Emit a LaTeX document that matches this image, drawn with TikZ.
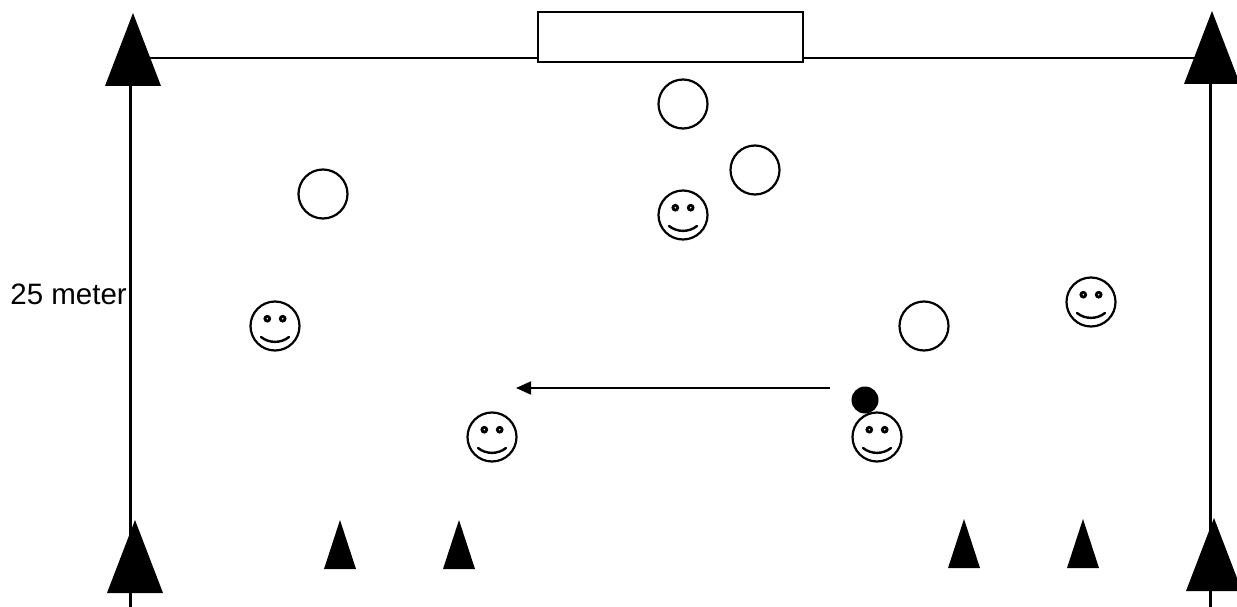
\documentclass[tikz,border=0pt]{standalone}
\usepackage{fontspec}
\setmainfont{Liberation Sans}
\usetikzlibrary{shapes.geometric, arrows.meta, positioning}
\tikzset{
  bigcone/.style={isosceles triangle, isosceles triangle stretches, shape border rotate=90, draw=none, fill=black,
    minimum width=56pt, minimum height=73pt, inner sep=0pt, outer sep=0pt, anchor=apex},
  smallcone/.style={isosceles triangle, isosceles triangle stretches, shape border rotate=90, draw=none, fill=black,
    minimum width=32pt, minimum height=49pt, inner sep=0pt, outer sep=0pt, anchor=apex},
  player/.style={circle, draw=black, fill=white, minimum size=49pt, inner sep=0pt, line width=2.2pt},
  ball/.style={circle, fill=black, minimum size=27pt, inner sep=0pt},
  line/.style={line width=2.3pt, color=black},
  arrow/.style={-{Triangle[length=15pt,width=13pt]}, line width=1.8pt, color=black},
  pics/smiley/.style={code={
    \fill (-7.7,-7.3) circle (3.9pt);
    \fill (7.7,-7.3) circle (3.9pt);
    \fill[white] (-7.7,-7.3) circle (0.8pt);
    \fill[white] (7.7,-7.3) circle (0.8pt);
    \draw[line width=2.4pt, line cap=round] (-14,11) .. controls (-6,17.5) and (6,17.5) .. (14,11);
  }}
}
\begin{document}
\begin{tikzpicture}[x=1pt, y=-1pt]
  \useasboundingbox (0,0) rectangle (1237,607);

  % Free ends of the side lines
  \coordinate (lefttop) at (130.5,80);
  \coordinate (leftend) at (130.5,607);
  \coordinate (rightop) at (1210.5,80);
  \coordinate (rightend) at (1210.5,607);
  \coordinate (goalleft) at (538,58);
  \coordinate (goalright) at (803,58);
  \coordinate (coneleft) at (150,58);
  \coordinate (coneright) at (1195,58);

  % Lines
  \draw[line] (lefttop) -- (leftend);
  \draw[line] (rightop) -- (rightend);
  \draw[line] (coneleft) -- (goalleft);
  \draw[line] (goalright) -- (coneright);

  % Cones
  \node[bigcone] (conetl) at (133,13) {};
  \node[bigcone] (conetr) at (1212,11) {};
  \node[bigcone] (conebl) at (135,520) {};
  \node[bigcone] (conebr) at (1214,518) {};
  \node[smallcone] (conea) at (340,520) {};
  \node[smallcone] (coneb) at (459,520) {};
  \node[smallcone] (conec) at (964,519) {};
  \node[smallcone] (coned) at (1083,519) {};

  % Goal
  \node[rectangle, draw=black, line width=2pt, minimum width=265pt, minimum height=50pt, inner sep=0pt] (goal) at (670.5,37) {};

  % Opponents
  \node[player] (opa) at (683,104) {};
  \node[player] (opb) at (755,170) {};
  \node[player] (opc) at (323,194) {};
  \node[player] (opd) at (924,326) {};

  % Players
  \node[player] (pla) at (683,215) {};
  \node[player] (plb) at (275,326) {};
  \node[player] (plc) at (1091,302) {};
  \node[player] (pld) at (492,437) {};
  \node[player] (ple) at (877,437) {};
  \foreach \p in {pla,plb,plc,pld,ple}
    \pic at (\p) {smiley};

  \node[ball] (ball) at (865,400) {};
  \coordinate (passstart) at (830,388);
  \coordinate (passend) at (516,388);
  \draw[arrow] (passstart) -- (passend);

  \node[font=\fontsize{29.5}{30}\selectfont, anchor=east, inner sep=0pt] (length) at (127,294) {25 meter};

\end{tikzpicture}
\end{document}
